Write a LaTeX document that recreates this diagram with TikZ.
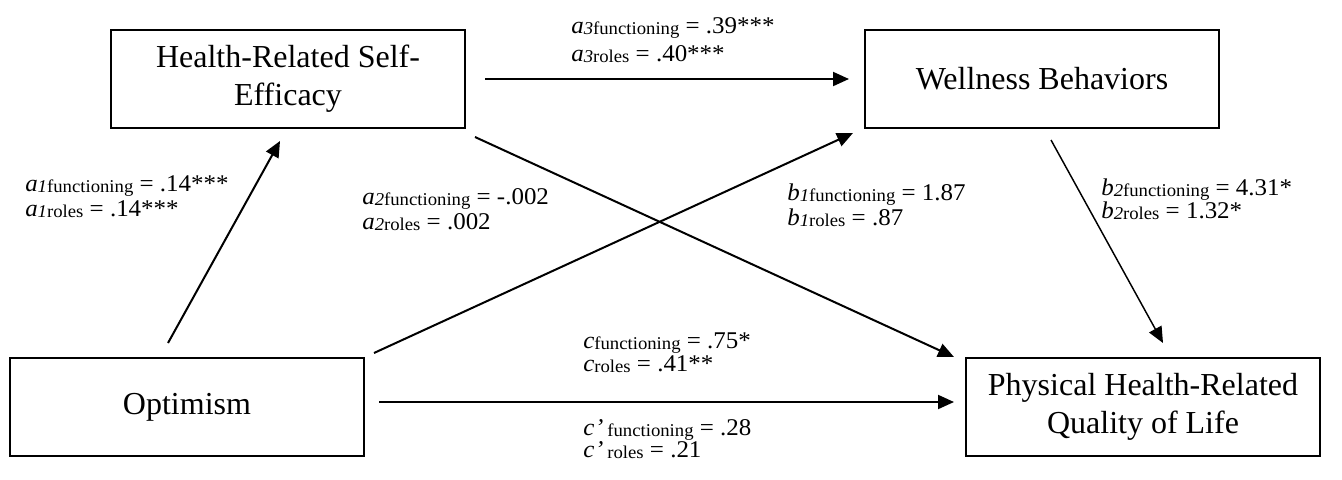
\documentclass[tikz,border=0pt]{standalone}
\usepackage{fontspec}
\setmainfont{Liberation Serif}
\newfontfamily\lblfont{Liberation Serif}[FakeStretch=1.04]
\usetikzlibrary{arrows.meta}
\newcommand{\subsz}{\fontsize{13.5}{13.5}\selectfont}
\newcommand{\pl}[4]{\textit{#1}\raisebox{-0.8pt}{\subsz\textit{#2}#3} = #4}
\newcommand{\plp}[2]{\textit{c}\kern0.5pt\textit{’}\,\raisebox{-0.8pt}{\subsz #1} = #2}
\tikzset{
  box/.style={draw, line width=1pt, minimum width=265.5pt, minimum height=73.5pt,
    inner sep=0pt, align=center, font=\fontsize{24}{28.5}\selectfont},
  boxtext/.style={anchor=base, inner sep=0pt, font=\fontsize{24}{28.5}\selectfont},
  conn/.style={line width=1.5pt, -{Triangle[length=12pt,width=10.5pt]}},
  thinconn/.style={line width=1.1pt, -{Triangle[length=12pt,width=10.5pt]}},
  lbl/.style={anchor=base west, inner sep=0pt, font=\lblfont\fontsize{18}{20}\selectfont}
}
\begin{document}
\begin{tikzpicture}[x=0.75pt,y=-0.75pt]
\useasboundingbox (0,0) rectangle (1342,479);
% boxes
\node[box] (hrse) at (288,79) {Health-Related Self-\\Efficacy};
\node[box, label={[boxtext]center:Wellness Behaviors}] (wb) at (1042,79) {};
\node[box, label={[boxtext]center:Optimism}] (opt) at (187,407) {};
\node[box] (phq) at (1143,407) {Physical Health-Related\\Quality of Life};
% connector end points
\coordinate (a1s) at (168,343); \coordinate (a1e) at (280,141);
\coordinate (a3s) at (485,79);  \coordinate (a3e) at (849,79);
\coordinate (a2s) at (475,137); \coordinate (a2e) at (954,357);
\coordinate (b1s) at (374,353); \coordinate (b1e) at (853,133);
\coordinate (b2s) at (1051,140); \coordinate (b2e) at (1163,343);
\coordinate (cs) at (379,402);  \coordinate (ce) at (954,402);
% connectors
\draw[conn] (a1s) -- (a1e);
\draw[conn] (a3s) -- (a3e);
\draw[conn] (a2s) -- (a2e);
\draw[conn] (b1s) -- (b1e);
\draw[thinconn] (b2s) -- (b2e);
\draw[conn] (cs) -- (ce);
% labels
\node[lbl] (la3f) at (571,33) {\pl{a}{3}{functioning}{.39***}};
\node[lbl] (la3r) at (571,61) {\pl{a}{3}{roles}{.40***}};
\node[lbl] (la1f) at (25,191) {\pl{a}{1}{functioning}{.14***}};
\node[lbl] (la1r) at (25,216) {\pl{a}{1}{roles}{.14***}};
\node[lbl] (la2f) at (362,204) {\pl{a}{2}{functioning}{-.002}};
\node[lbl] (la2r) at (362,229) {\pl{a}{2}{roles}{.002}};
\node[lbl] (lb1f) at (787,200) {\pl{b}{1}{functioning}{1.87}};
\node[lbl] (lb1r) at (787,225) {\pl{b}{1}{roles}{.87}};
\node[lbl] (lb2f) at (1101,195) {\pl{b}{2}{functioning}{4.31*}};
\node[lbl] (lb2r) at (1101,218) {\pl{b}{2}{roles}{1.32*}};
\node[lbl] (lcf) at (583,348) {\pl{c}{}{functioning}{.75*}};
\node[lbl] (lcr) at (583,371) {\pl{c}{}{roles}{.41**}};
\node[lbl] (lcpf) at (583,435) {\plp{functioning}{.28}};
\node[lbl] (lcpr) at (583,457) {\plp{roles}{.21}};
\end{tikzpicture}
\end{document}
